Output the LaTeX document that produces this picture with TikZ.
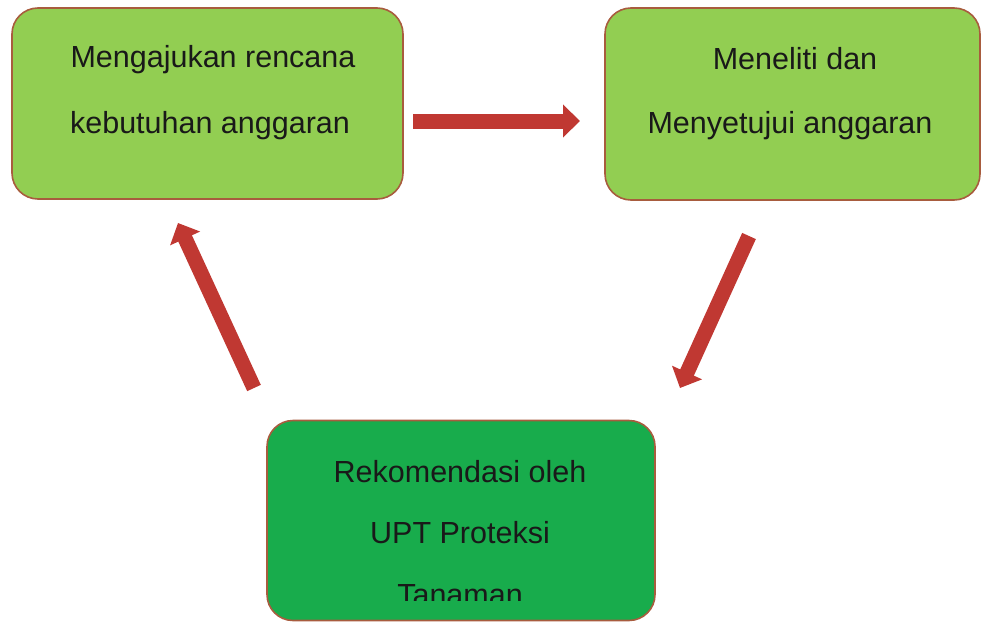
\documentclass[tikz,border=0pt]{standalone}
\usepackage{fontspec}
\setmainfont{Liberation Sans}
\usetikzlibrary{arrows.meta}
\definecolor{lgreen}{RGB}{146,206,82}
\definecolor{dgreen}{RGB}{24,172,76}
\definecolor{boxline}{RGB}{168,92,62}
\definecolor{arrred}{RGB}{192,56,50}
\tikzset{
  box/.style={draw=boxline, line width=1.6pt, rounded corners=26pt, inner sep=0pt},
  txt/.style={anchor=base, inner sep=0pt, font=\fontsize{30.5}{36}\selectfont, text=black!90},
  flow/.style={draw=arrred, line width=15pt, -{Triangle[width=32pt,length=17pt]}}
}
\begin{document}
\begin{tikzpicture}[x=1pt,y=-1pt]
\useasboundingbox (0,0) rectangle (981,623);
% boxes
\node[box, fill=lgreen, minimum width=391pt, minimum height=191pt] (b1) at (207.5,103.5) {};
\node[box, fill=lgreen, minimum width=375pt, minimum height=192pt] (b2) at (792.5,104) {};
\node[box, fill=dgreen, minimum width=388pt, minimum height=200pt] (b3) at (461,520.5) {};
% texts
\node[txt] (t1a) at (213,68) {Mengajukan rencana};
\node[txt] (t1b) at (210,133) {kebutuhan anggaran};
\node[txt] (t2a) at (795,70) {Meneliti dan};
\node[txt] (t2b) at (790,133) {Menyetujui anggaran};
\node[txt] (t3a) at (460,482) {Rekomendasi oleh};
\node[txt] (t3b) at (460,543) {UPT Proteksi};
\begin{scope}
  \clip (267,420) rectangle (655,600);
  \node[txt] (t3c) at (460,605) {Tanaman};
\end{scope}
% arrows
\coordinate (h1) at (413,121);
\coordinate (h2) at (580,121);
\coordinate (l1) at (254,388);
\coordinate (l2) at (178,223);
\coordinate (r1) at (749,236);
\coordinate (r2) at (680,388);
\draw[flow] (h1) -- (h2);
\draw[flow] (l1) -- (l2);
\draw[flow] (r1) -- (r2);
\end{tikzpicture}
\end{document}
